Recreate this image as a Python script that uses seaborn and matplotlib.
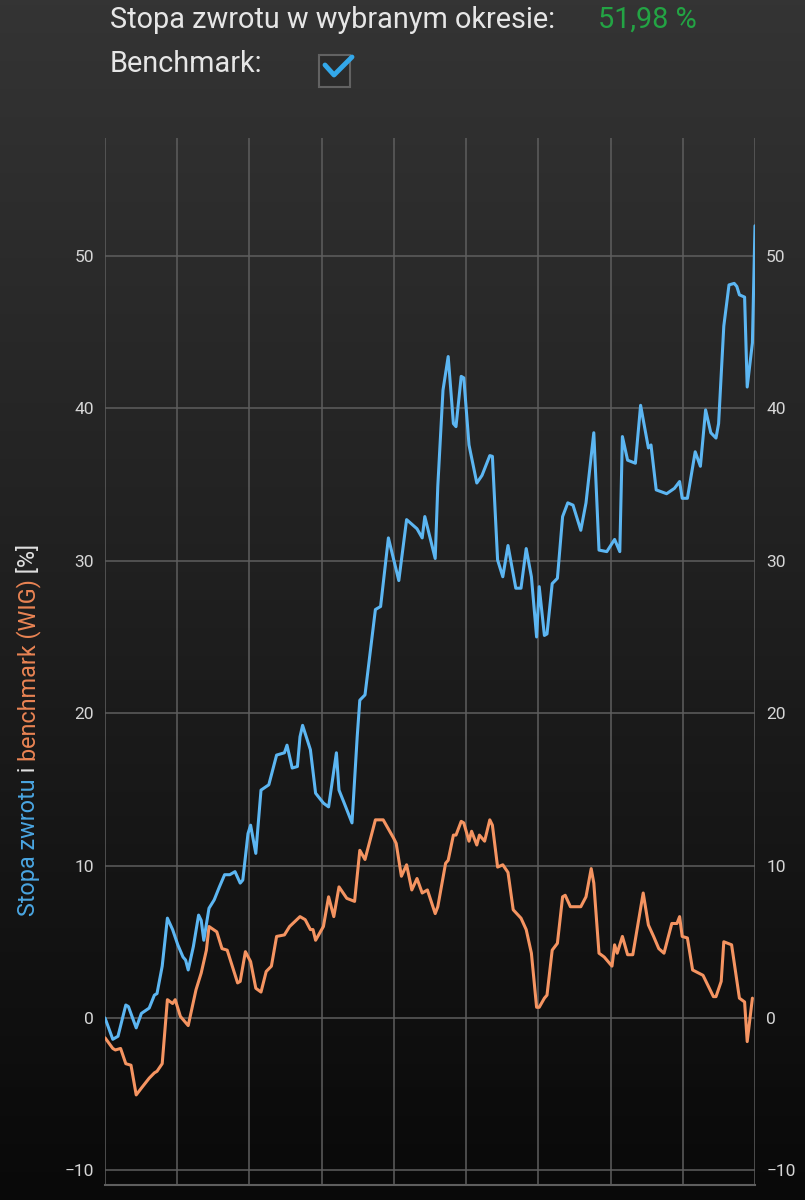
import numpy as np
import pandas as pd
import seaborn as sns
import matplotlib.pyplot as plt
from matplotlib.colors import LinearSegmentedColormap
from matplotlib.lines import Line2D
from matplotlib.patches import Rectangle

# stopa zwrotu funduszu [%] (sesje od poczatku okresu)
fund_days = [0, 3, 5, 8, 9, 12, 14, 17, 19, 20, 22, 24, 26, 28, 30, 31, 32, 34, 36, 37,
             38, 40, 42, 44, 46, 48, 50, 52, 53, 55, 56, 58, 60, 63, 66, 69, 70, 72, 74, 75,
             76, 79, 81, 84, 86, 89, 90, 92, 95, 97, 98, 100, 104, 106, 109, 113, 116, 120, 122, 123,
             127, 128, 130, 132, 134, 135, 137, 138, 140, 143, 145, 148, 149, 151, 153, 155, 158, 160, 162, 164,
             166, 167, 169, 170, 172, 174, 176, 178, 180, 183, 185, 188, 190, 193, 196, 198, 199, 201, 204, 206,
             209, 210, 212, 216, 219, 221, 222, 224, 227, 229, 231, 233, 235, 236, 238, 240, 242, 243, 244, 246,
             247, 249, 250]
fund_ret = [0.0, -1.4, -1.2, 0.85, 0.75, -0.65, 0.3, 0.65, 1.5, 1.6, 3.4, 6.55, 5.8, 4.8, 4.0, 3.8, 3.15, 4.7, 6.75, 6.4,
            5.1, 7.2, 7.75, 8.6, 9.4, 9.4, 9.6, 8.85, 9.05, 12.1, 12.65, 10.8, 14.95, 15.3, 17.25, 17.4, 17.9, 16.4, 16.5, 18.45,
            19.2, 17.6, 14.75, 14.1, 13.85, 17.4, 14.95, 14.1, 12.8, 18.45, 20.85, 21.2, 26.8, 27.0, 31.5, 28.7, 32.7, 32.1, 31.5, 32.9,
            30.15, 34.9, 41.2, 43.4, 39.0, 38.8, 42.1, 42.0, 37.6, 35.1, 35.6, 36.9, 36.85, 30.05, 28.95, 31.0, 28.2, 28.2, 30.8, 28.95,
            25.0, 28.3, 25.1, 25.2, 28.5, 28.85, 32.9, 33.8, 33.65, 32.0, 33.8, 38.4, 30.7, 30.6, 31.4, 30.6, 38.15, 36.6, 36.4, 40.2,
            37.4, 37.6, 34.65, 34.4, 34.75, 35.2, 34.1, 34.1, 37.15, 36.2, 39.9, 38.4, 38.05, 39.0, 45.4, 48.1, 48.2, 48.0, 47.45, 47.3,
            41.4, 44.3, 51.98]

# benchmark WIG [%]
wig_days = [0, 3, 4, 6, 8, 10, 12, 14, 17, 19, 20, 22, 24, 26, 27, 29, 32, 35, 37, 39,
            40, 43, 45, 47, 51, 52, 54, 56, 58, 60, 62, 64, 66, 69, 71, 75, 77, 79, 80, 81,
            84, 86, 88, 90, 93, 96, 98, 100, 104, 107, 111, 112, 114, 116, 118, 120, 122, 124, 127, 128,
            131, 132, 134, 135, 137, 138, 140, 141, 143, 144, 146, 148, 149, 151, 153, 155, 157, 160, 162, 164,
            166, 167, 169, 170, 172, 174, 176, 177, 179, 183, 185, 187, 188, 190, 192, 195, 196, 197, 199, 201,
            203, 207, 209, 211, 213, 215, 218, 220, 221, 222, 224, 226, 230, 234, 235, 237, 238, 241, 244, 246,
            247, 249]
wig_ret = [-1.3, -2.0, -2.1, -2.0, -3.0, -3.1, -5.05, -4.6, -3.95, -3.6, -3.5, -3.0, 1.2, 0.95, 1.2, 0.1, -0.5, 1.85, 2.95, 4.45,
           6.0, 5.65, 4.55, 4.45, 2.3, 2.4, 4.35, 3.7, 1.95, 1.7, 3.05, 3.4, 5.35, 5.45, 6.0, 6.65, 6.45, 5.8, 5.8, 5.1,
           6.0, 7.95, 6.65, 8.6, 7.85, 7.65, 11.0, 10.4, 13.0, 13.0, 11.8, 11.45, 9.3, 10.05, 8.4, 9.15, 8.2, 8.4, 6.85, 7.3,
           10.15, 10.35, 12.0, 12.0, 12.9, 12.8, 11.6, 12.25, 11.35, 12.0, 11.6, 13.0, 12.65, 9.9, 10.05, 9.55, 7.1, 6.55, 5.8, 4.25,
           0.7, 0.7, 1.3, 1.5, 4.45, 4.9, 7.95, 8.05, 7.3, 7.3, 7.95, 9.8, 8.85, 4.25, 4.0, 3.4, 4.8, 4.25, 5.35, 4.15,
           4.15, 8.2, 6.1, 5.35, 4.55, 4.25, 6.2, 6.2, 6.65, 5.35, 5.25, 3.15, 2.8, 1.4, 1.4, 2.4, 5.0, 4.8, 1.3, 1.05,
           -1.55, 1.3]

y_ticks = [-10, 0, 10, 20, 30, 40, 50]
period_return = '51,98 %'

sns.set_theme(style='dark')
plt.rcParams['font.family'] = ['Roboto', 'DejaVu Sans']

fig = plt.figure(figsize=(8.05, 12), dpi=100)

# tlo z gradientem
bg = fig.add_axes([0, 0, 1, 1], zorder=-10)
grad = np.linspace(0, 1, 256).reshape(-1, 1)
bg_cmap = LinearSegmentedColormap.from_list('bg', ['#343434', '#1f1f1f', '#090909'])
bg.imshow(grad, aspect='auto', cmap=bg_cmap, extent=[0, 1, 0, 1])
bg.axis('off')

ax = fig.add_axes([105 / 805, 15 / 1200, 650 / 805, 1047 / 1200])
ax.patch.set_alpha(0)

df_fund = pd.DataFrame({'day': fund_days, 'ret': fund_ret})
df_wig = pd.DataFrame({'day': wig_days, 'ret': wig_ret})
sns.lineplot(data=df_wig, x='day', y='ret', ax=ax, color='#f59461', lw=2.2)
sns.lineplot(data=df_fund, x='day', y='ret', ax=ax, color='#5cb6f2', lw=2.2)

ax.set_xlim(0, 250)
ax.set_ylim(-10.96, 57.74)
ax.set_xticks(np.linspace(0, 250, 10))
ax.set_xticklabels([])
ax.set_yticks(y_ticks)
ax.grid(True, color='#5e5e5e', lw=1.1)
ax.set_axisbelow(True)
for s in ['top', 'left', 'right']:
    ax.spines[s].set_visible(False)
ax.spines['bottom'].set_color('#5e5e5e')
ax.spines['bottom'].set_linewidth(1.5)
ax.tick_params(axis='y', length=0, pad=8, labelsize=12.5, labelcolor='#d6d6d6',
               labelleft=True, labelright=True)
ax.tick_params(axis='x', length=0)
ax.set_xlabel('')
ax.set_ylabel('')

# naglowek
fig.text(110 / 805, 1 - 20 / 1200, 'Stopa zwrotu w wybranym okresie:', color='#e6e6e6',
         fontsize=20.8, va='center')
fig.text(598 / 805, 1 - 20 / 1200, period_return, color='#23a444', fontsize=20.8, va='center')
fig.text(110 / 805, 1 - 64 / 1200, 'Benchmark:', color='#e6e6e6', fontsize=20.8, va='center')
fig.add_artist(Rectangle((319 / 805, 1 - 87 / 1200), 31 / 805, 32 / 1200, transform=fig.transFigure,
                         facecolor='#2b2b2b', edgecolor='#626262', lw=1.5))
fig.add_artist(Line2D(np.array([325, 334, 352]) / 805, 1 - np.array([65, 75, 57]) / 1200,
                      transform=fig.transFigure, color='#33a8ea', lw=3.5,
                      solid_capstyle='round', solid_joinstyle='round'))

# kolorowy opis osi Y
parts = [('Stopa zwrotu', '#4aa6e2'), (' i ', '#e0e0e0'),
         ('benchmark (WIG)', '#ea8454'), (' [%]', '#e0e0e0')]
renderer = fig.canvas.get_renderer()
lab_kw = dict(fontsize=16.8, rotation=90, rotation_mode='anchor', ha='left', va='baseline')


def text_h(s):
    t = fig.text(0, 0, s + 'x', **lab_kw)
    h = t.get_window_extent(renderer).height
    t.remove()
    t2 = fig.text(0, 0, 'x', **lab_kw)
    h2 = t2.get_window_extent(renderer).height
    t2.remove()
    return h - h2


y0 = 916
x0 = 35
prefix = ''
for txt, col in parts:
    off = text_h(prefix) if prefix else 0
    fig.text(x0 / 805, (1200 - y0 + off) / 1200, txt, color=col, **lab_kw)
    prefix += txt

fig.savefig('out.png', dpi=100)
